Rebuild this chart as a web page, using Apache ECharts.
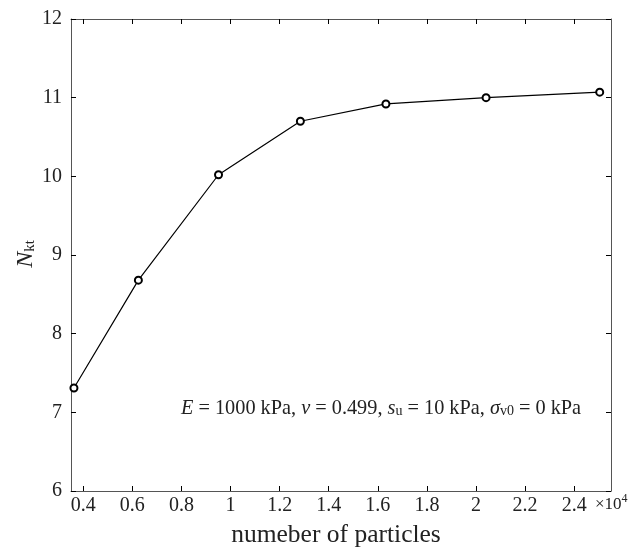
<!DOCTYPE html>
<html>
<head>
<meta charset="utf-8">
<script src="https://cdn.jsdelivr.net/npm/echarts@6/dist/echarts.min.js"></script>
<style>
  html, body { margin: 0; padding: 0; background: #fff; }
  #chart { width: 641px; height: 549px; }
</style>
</head>
<body>
<div id="chart"></div>
<script>
// Cone factor N_kt versus model resolution (number of particles)
const particleCounts = [3620, 6245, 9510, 12845, 16330, 20410, 25040];
const nktValues = [7.31, 8.68, 10.02, 10.70, 10.92, 11.00, 11.07];

// Axis ticks (x values are raw particle counts, labelled in units of 10^4)
const xTickValues = [4000, 6000, 8000, 10000, 12000, 14000, 16000, 18000, 20000, 22000, 24000];
const yTickValues = [6, 7, 8, 9, 10, 11, 12];

const FONT = '"Liberation Serif", "Times New Roman", serif';
const AXIS_LINE = { show: true, lineStyle: { color: '#555', width: 1 } };
const TICK = { show: true, inside: true, length: 5, lineStyle: { color: '#000', width: 1 } };

const chart = echarts.init(document.getElementById('chart'), null, { renderer: 'canvas' });

const xBase = {
  type: 'value', min: 3500, max: 25500,
  axisLine: AXIS_LINE,
  splitLine: { show: false }
};
const yBase = {
  type: 'value', min: yTickValues[0], max: yTickValues[yTickValues.length - 1], interval: 1,
  axisLine: AXIS_LINE,
  splitLine: { show: false }
};

chart.setOption({
  animation: false,
  backgroundColor: '#fff',
  grid: { left: 71, right: 30, top: 19, bottom: 58, containLabel: false },
  xAxis: [
    Object.assign({}, xBase, {
      position: 'bottom',
      axisTick: Object.assign({}, TICK, { customValues: xTickValues }),
      axisLabel: {
        customValues: xTickValues,
        formatter: v => String(+(v / 10000).toFixed(1)),
        fontFamily: FONT, fontSize: 20, color: '#222', margin: 5
      }
    }),
    Object.assign({}, xBase, {
      position: 'top',
      axisTick: Object.assign({}, TICK, { customValues: xTickValues }),
      axisLabel: { show: false }
    })
  ],
  yAxis: [
    Object.assign({}, yBase, {
      position: 'left',
      axisTick: TICK,
      axisLabel: { fontFamily: FONT, fontSize: 20, color: '#222', margin: 9 }
    }),
    Object.assign({}, yBase, {
      position: 'right',
      axisTick: TICK,
      axisLabel: { show: false }
    })
  ],
  series: [{
    type: 'line',
    xAxisIndex: 0,
    yAxisIndex: 0,
    data: particleCounts.map((n, i) => [n, nktValues[i]]),
    symbol: 'emptyCircle',
    symbolSize: 7,
    lineStyle: { color: '#000', width: 1.2 },
    itemStyle: { color: '#000', borderColor: '#000', borderWidth: 1 }
  }],
  graphic: [
    {
      // y-axis title N_kt
      type: 'text', x: 26, y: 254, rotation: Math.PI / 2,
      style: {
        text: '{i|N}{sub|kt}',
        align: 'center', verticalAlign: 'middle',
        rich: {
          i: { fontFamily: FONT, fontStyle: 'italic', fontSize: 24, fill: '#222', verticalAlign: 'bottom', lineHeight: 24 },
          sub: { fontFamily: FONT, fontSize: 15, fill: '#222', verticalAlign: 'bottom', lineHeight: 20 }
        }
      }
    },
    {
      // x-axis title
      type: 'text', x: 336, y: 535,
      style: {
        text: 'numeber of particles',
        fontFamily: FONT, fontSize: 25.5, fill: '#222',
        align: 'center', verticalAlign: 'middle'
      }
    },
    {
      // x-axis scale factor
      type: 'text', x: 595, y: 503,
      style: {
        text: '{m|×10}{sup|4}',
        align: 'left', verticalAlign: 'middle',
        rich: {
          m: { fontFamily: FONT, fontSize: 17, fill: '#222', verticalAlign: 'bottom', lineHeight: 18 },
          sup: { fontFamily: FONT, fontSize: 12, fill: '#222', verticalAlign: 'top', lineHeight: 20 }
        }
      }
    },
    {
      // material parameters
      type: 'text', x: 181, y: 408,
      style: {
        text: '{i|E}{t| = 1000 kPa, }{i|ν}{t| = 0.499, }{i|s}{sub|u}{t| = 10 kPa, }{i|σ}{sub|v0}{t| = 0 kPa}',
        align: 'left', verticalAlign: 'middle',
        rich: {
          t: { fontFamily: FONT, fontSize: 20.3, fill: '#222', verticalAlign: 'bottom', lineHeight: 21 },
          i: { fontFamily: FONT, fontStyle: 'italic', fontSize: 20.3, fill: '#222', verticalAlign: 'bottom', lineHeight: 21 },
          sub: { fontFamily: FONT, fontSize: 14, fill: '#222', verticalAlign: 'bottom', lineHeight: 18 }
        }
      }
    }
  ]
});
</script>
</body>
</html>
